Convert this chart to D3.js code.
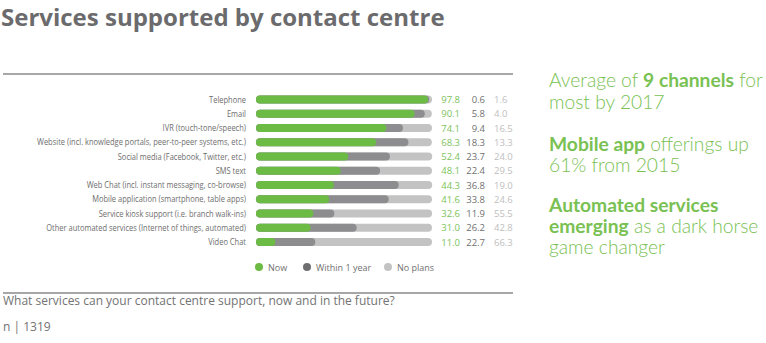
<!DOCTYPE html>
<html><head><meta charset="utf-8">
<script src="https://cdn.jsdelivr.net/npm/d3@7"></script>
<style>
body{margin:0;background:#fff;}
svg{display:block;font-family:"Open Sans",sans-serif;}
</style></head><body>
<svg id="c" width="766" height="343"></svg>
<script>
const categories = ["Telephone","Email","IVR (touch-tone/speech)","Website (incl. knowledge portals, peer-to-peer systems, etc.)","Social media (Facebook, Twitter, etc.)","SMS text","Web Chat (incl. instant messaging, co-browse)","Mobile application (smartphone, table apps)","Service kiosk support (i.e. branch walk-ins)","Other automated services (Internet of things, automated)","Video Chat"];
const nowValues = [97.8,90.1,74.1,68.3,52.4,48.1,44.3,41.6,32.6,31.0,11.0];
const withinYearValues = [0.6,5.8,9.4,18.3,23.7,22.4,36.8,33.8,11.9,26.2,22.7];
const noPlansValues = [1.6,4.0,16.5,13.3,24.0,29.5,19.0,24.6,55.5,42.8,66.3];
const seriesNames = ["Now","Within 1 year","No plans"];

const cGreen="#6cbb45", cDark="#8d8d8f", cLight="#c3c3c3";
const svg=d3.select("#c");

// title
svg.append("text").attr("x",1).attr("y",26).attr("fill","#6b6b6d")
  .attr("font-size",24).attr("font-weight",700).attr("font-family","Open Sans")
  .text("Services supported by contact centre");
svg.append("line").attr("x1",3).attr("x2",513).attr("y1",74).attr("y2",74).attr("stroke","#8a8a8a").attr("stroke-width",1.5);
svg.append("line").attr("x1",3).attr("x2",513).attr("y1",293).attr("y2",293).attr("stroke","#8a8a8a").attr("stroke-width",1.5);

const x=d3.scaleLinear().domain([0,100]).range([256,432]);
const y=d3.scalePoint().domain(categories).range([99.5,242]);
const bh=8;

const rows=categories.map((c,i)=>({c,now:nowValues[i],w:withinYearValues[i],n:noPlansValues[i]}));
const g=svg.append("g");
const row=g.selectAll("g.row").data(rows).join("g").attr("class","row");

const labs=row.append("text").attr("x",246).attr("y",d=>y(d.c)+3.2).attr("text-anchor","end")
  .attr("font-size",9).attr("font-family","Open Sans")
  .attr("fill","#6e6e6e").text(d=>d.c);
// condense labels horizontally so the widest one fits the reference width
let maxW=0; labs.each(function(){maxW=Math.max(maxW,this.getComputedTextLength());});
const k=209/maxW;
labs.each(function(){
  const w=this.getComputedTextLength();
  d3.select(this).attr("textLength",w*k).attr("lengthAdjust","spacingAndGlyphs");
});

row.append("rect").attr("x",x(0)).attr("y",d=>y(d.c)-bh/2).attr("height",bh)
  .attr("width",d=>x(d.now+d.w+d.n)-x(0)).attr("rx",bh/2).attr("fill",cLight);
row.append("rect").attr("x",x(0)).attr("y",d=>y(d.c)-bh/2).attr("height",bh)
  .attr("width",d=>x(d.now+d.w)-x(0)).attr("rx",bh/2).attr("fill",cDark);
row.append("rect").attr("x",x(0)).attr("y",d=>y(d.c)-bh/2).attr("height",bh)
  .attr("width",d=>x(d.now)-x(0)).attr("rx",bh/2).attr("fill",cGreen);

row.append("text").attr("x",460).attr("y",d=>y(d.c)+3.5).attr("text-anchor","end")
  .attr("font-size",9.5).attr("fill","#7cc35a").text(d=>d.now.toFixed(1));
row.append("text").attr("x",485).attr("y",d=>y(d.c)+3.5).attr("text-anchor","end")
  .attr("font-size",9.5).attr("fill","#707070").text(d=>d.w.toFixed(1));
row.append("text").attr("x",494).attr("y",d=>y(d.c)+3.5).attr("text-anchor","start")
  .attr("font-size",9.5).attr("fill","#c0c0c0").text(d=>d.n.toFixed(1));

// legend
const legX=[259,307,388], legC=[cGreen,"#6e6e70",cLight];
const leg=svg.append("g").selectAll("g").data(seriesNames).join("g");
leg.append("circle").attr("cx",(d,i)=>legX[i]).attr("cy",267).attr("r",4).attr("fill",(d,i)=>legC[i]);
leg.append("text").attr("x",(d,i)=>legX[i]+9).attr("y",270.5).attr("font-size",9).attr("fill","#707070").text(d=>d);

// footer
svg.append("text").attr("x",3).attr("y",305).attr("font-size",12).attr("fill","#737373")
  .text("What services can your contact centre support, now and in the future?");
svg.append("text").attr("x",3).attr("y",331).attr("font-size",12).attr("fill","#737373").text("n | 1319");

// right notes
const notes=[
  [[ "Average of ",0],["9 channels",1],[" for",0]],
  [[ "most by 2017",0]],
  [[ "Mobile app",1],[" offerings up",0]],
  [[ "61% from 2015",0]],
  [[ "Automated services",1]],
  [[ "emerging",1],[" as a dark horse",0]],
  [[ "game changer",0]]
];
const noteY=[87,109,151,172,212,233,254];
const nt=svg.append("g").attr("fill","#79c153").attr("font-size",18).attr("font-family","Lato");
const ntTexts=[];
notes.forEach((ln,i)=>{
  const t=nt.append("text").attr("x",549).attr("y",noteY[i]);
  ln.forEach(([s,b])=>t.append("tspan").attr("font-weight",b?700:300).text(s));
  ntTexts.push(t);
});
const w1=ntTexts[0].node().getComputedTextLength();
nt.attr("font-size",18*214/w1);
</script></body></html>
